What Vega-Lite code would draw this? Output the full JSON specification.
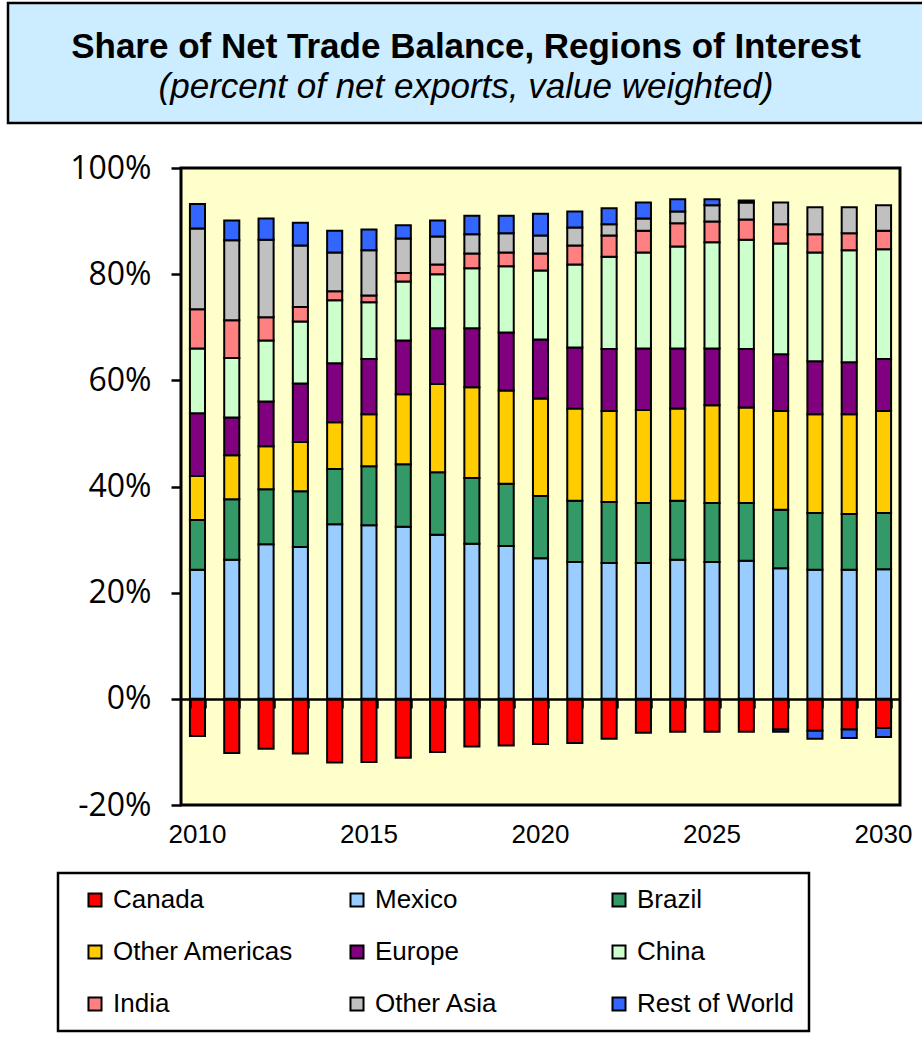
{
  "$schema": "https://vega.github.io/schema/vega-lite/v6.json",
  "background": "white",
  "padding": {"left": 6, "top": 1, "right": 0, "bottom": 0},
  "spacing": 27,
  "config": {"font": "Liberation Sans"},
  "vconcat": [
    {
      "width": 916,
      "height": 120,
      "view": {"fill": "#CCECFF", "stroke": "black", "strokeWidth": 2.5},
      "title": {
        "text": "Share of Net Trade Balance, Regions of Interest",
        "subtitle": "(percent of net exports, value weighted)",
        "orient": "top",
        "anchor": "middle",
        "frame": "group",
        "offset": -102,
        "font": "Liberation Sans",
        "fontSize": 35,
        "fontWeight": "bold",
        "color": "black",
        "subtitleFont": "Liberation Sans",
        "subtitleFontSize": 35,
        "subtitleFontStyle": "italic",
        "subtitleColor": "black",
        "subtitlePadding": 5
      },
      "data": {"values": []},
      "mark": "text"
    },
    {
      "spacing": 8,
      "hconcat": [
        {
          "width": 143,
          "height": 637,
          "view": {"fill": "white", "stroke": null},
          "data": {"values": [{}]},
          "mark": {"type": "tick", "opacity": 0},
          "encoding": {
            "y": {
              "datum": 0, "type": "quantitative",
              "scale": {"domain": [-20, 100], "nice": false},
              "axis": {"orient": "right", "title": null, "values": [-20, 0, 20, 40, 60, 80, 100], "labelExpr": "datum.value + '%'", "grid": false, "domain": false, "ticks": false, "tickSize": 0, "labelAlign": "right", "labelPadding": 0, "labelFont": "Open Sans", "labelFontSize": 32, "labelColor": "black"}
            }
          }
        },
        {
          "width": 719,
          "height": 637,
          "view": {"fill": "#FFFFCC", "stroke": "black", "strokeWidth": 3},
          "data": {"values": [
            {"year":"2010","region":"Canada","value":-7.0},{"year":"2010","region":"Mexico","value":24.3},{"year":"2010","region":"Brazil","value":9.4},{"year":"2010","region":"Other Americas","value":8.3},{"year":"2010","region":"Europe","value":11.8},{"year":"2010","region":"China","value":12.2},{"year":"2010","region":"India","value":7.4},{"year":"2010","region":"Other Asia","value":15.2},{"year":"2010","region":"Rest of World","value":4.6},
            {"year":"2011","region":"Canada","value":-10.2},{"year":"2011","region":"Mexico","value":26.2},{"year":"2011","region":"Brazil","value":11.4},{"year":"2011","region":"Other Americas","value":8.3},{"year":"2011","region":"Europe","value":7.1},{"year":"2011","region":"China","value":11.2},{"year":"2011","region":"India","value":7.1},{"year":"2011","region":"Other Asia","value":15.1},{"year":"2011","region":"Rest of World","value":3.7},
            {"year":"2012","region":"Canada","value":-9.4},{"year":"2012","region":"Mexico","value":29.1},{"year":"2012","region":"Brazil","value":10.4},{"year":"2012","region":"Other Americas","value":8.1},{"year":"2012","region":"Europe","value":8.4},{"year":"2012","region":"China","value":11.5},{"year":"2012","region":"India","value":4.4},{"year":"2012","region":"Other Asia","value":14.6},{"year":"2012","region":"Rest of World","value":4.0},
            {"year":"2013","region":"Canada","value":-10.3},{"year":"2013","region":"Mexico","value":28.6},{"year":"2013","region":"Brazil","value":10.5},{"year":"2013","region":"Other Americas","value":9.3},{"year":"2013","region":"Europe","value":11.0},{"year":"2013","region":"China","value":11.7},{"year":"2013","region":"India","value":2.7},{"year":"2013","region":"Other Asia","value":11.6},{"year":"2013","region":"Rest of World","value":4.3},
            {"year":"2014","region":"Canada","value":-12.0},{"year":"2014","region":"Mexico","value":32.9},{"year":"2014","region":"Brazil","value":10.4},{"year":"2014","region":"Other Americas","value":8.8},{"year":"2014","region":"Europe","value":11.1},{"year":"2014","region":"China","value":11.9},{"year":"2014","region":"India","value":1.7},{"year":"2014","region":"Other Asia","value":7.3},{"year":"2014","region":"Rest of World","value":4.1},
            {"year":"2015","region":"Canada","value":-11.9},{"year":"2015","region":"Mexico","value":32.7},{"year":"2015","region":"Brazil","value":11.1},{"year":"2015","region":"Other Americas","value":9.8},{"year":"2015","region":"Europe","value":10.4},{"year":"2015","region":"China","value":10.7},{"year":"2015","region":"India","value":1.3},{"year":"2015","region":"Other Asia","value":8.5},{"year":"2015","region":"Rest of World","value":3.9},
            {"year":"2016","region":"Canada","value":-11.1},{"year":"2016","region":"Mexico","value":32.4},{"year":"2016","region":"Brazil","value":11.8},{"year":"2016","region":"Other Americas","value":13.2},{"year":"2016","region":"Europe","value":10.1},{"year":"2016","region":"China","value":11.1},{"year":"2016","region":"India","value":1.6},{"year":"2016","region":"Other Asia","value":6.5},{"year":"2016","region":"Rest of World","value":2.5},
            {"year":"2017","region":"Canada","value":-10.0},{"year":"2017","region":"Mexico","value":30.9},{"year":"2017","region":"Brazil","value":11.8},{"year":"2017","region":"Other Americas","value":16.6},{"year":"2017","region":"Europe","value":10.5},{"year":"2017","region":"China","value":10.2},{"year":"2017","region":"India","value":1.8},{"year":"2017","region":"Other Asia","value":5.3},{"year":"2017","region":"Rest of World","value":3.0},
            {"year":"2018","region":"Canada","value":-9.0},{"year":"2018","region":"Mexico","value":29.2},{"year":"2018","region":"Brazil","value":12.4},{"year":"2018","region":"Other Americas","value":17.1},{"year":"2018","region":"Europe","value":11.1},{"year":"2018","region":"China","value":11.3},{"year":"2018","region":"India","value":2.8},{"year":"2018","region":"Other Asia","value":3.6},{"year":"2018","region":"Rest of World","value":3.5},
            {"year":"2019","region":"Canada","value":-8.8},{"year":"2019","region":"Mexico","value":28.8},{"year":"2019","region":"Brazil","value":11.7},{"year":"2019","region":"Other Americas","value":17.6},{"year":"2019","region":"Europe","value":10.9},{"year":"2019","region":"China","value":12.5},{"year":"2019","region":"India","value":2.6},{"year":"2019","region":"Other Asia","value":3.6},{"year":"2019","region":"Rest of World","value":3.3},
            {"year":"2020","region":"Canada","value":-8.5},{"year":"2020","region":"Mexico","value":26.5},{"year":"2020","region":"Brazil","value":11.7},{"year":"2020","region":"Other Americas","value":18.4},{"year":"2020","region":"Europe","value":11.1},{"year":"2020","region":"China","value":13.0},{"year":"2020","region":"India","value":3.2},{"year":"2020","region":"Other Asia","value":3.4},{"year":"2020","region":"Rest of World","value":4.1},
            {"year":"2021","region":"Canada","value":-8.3},{"year":"2021","region":"Mexico","value":25.8},{"year":"2021","region":"Brazil","value":11.5},{"year":"2021","region":"Other Americas","value":17.4},{"year":"2021","region":"Europe","value":11.5},{"year":"2021","region":"China","value":15.6},{"year":"2021","region":"India","value":3.6},{"year":"2021","region":"Other Asia","value":3.4},{"year":"2021","region":"Rest of World","value":3.0},
            {"year":"2022","region":"Canada","value":-7.5},{"year":"2022","region":"Mexico","value":25.6},{"year":"2022","region":"Brazil","value":11.5},{"year":"2022","region":"Other Americas","value":17.1},{"year":"2022","region":"Europe","value":11.7},{"year":"2022","region":"China","value":17.4},{"year":"2022","region":"India","value":4.0},{"year":"2022","region":"Other Asia","value":2.1},{"year":"2022","region":"Rest of World","value":3.0},
            {"year":"2023","region":"Canada","value":-6.4},{"year":"2023","region":"Mexico","value":25.6},{"year":"2023","region":"Brazil","value":11.3},{"year":"2023","region":"Other Americas","value":17.5},{"year":"2023","region":"Europe","value":11.6},{"year":"2023","region":"China","value":18.1},{"year":"2023","region":"India","value":4.1},{"year":"2023","region":"Other Asia","value":2.3},{"year":"2023","region":"Rest of World","value":3.0},
            {"year":"2024","region":"Canada","value":-6.2},{"year":"2024","region":"Mexico","value":26.2},{"year":"2024","region":"Brazil","value":11.1},{"year":"2024","region":"Other Americas","value":17.4},{"year":"2024","region":"Europe","value":11.3},{"year":"2024","region":"China","value":19.2},{"year":"2024","region":"India","value":4.4},{"year":"2024","region":"Other Asia","value":2.2},{"year":"2024","region":"Rest of World","value":2.3},
            {"year":"2025","region":"Canada","value":-6.2},{"year":"2025","region":"Mexico","value":25.8},{"year":"2025","region":"Brazil","value":11.1},{"year":"2025","region":"Other Americas","value":18.4},{"year":"2025","region":"Europe","value":10.7},{"year":"2025","region":"China","value":20.0},{"year":"2025","region":"India","value":3.9},{"year":"2025","region":"Other Asia","value":3.1},{"year":"2025","region":"Rest of World","value":1.1},
            {"year":"2026","region":"Canada","value":-6.2},{"year":"2026","region":"Mexico","value":26.0},{"year":"2026","region":"Brazil","value":10.9},{"year":"2026","region":"Other Americas","value":18.0},{"year":"2026","region":"Europe","value":11.0},{"year":"2026","region":"China","value":20.6},{"year":"2026","region":"India","value":3.8},{"year":"2026","region":"Other Asia","value":3.2},{"year":"2026","region":"Rest of World","value":0.4},
            {"year":"2027","region":"Canada","value":-5.8},{"year":"2027","region":"Mexico","value":24.6},{"year":"2027","region":"Brazil","value":11.0},{"year":"2027","region":"Other Americas","value":18.6},{"year":"2027","region":"Europe","value":10.7},{"year":"2027","region":"China","value":20.9},{"year":"2027","region":"India","value":3.6},{"year":"2027","region":"Other Asia","value":4.1},{"year":"2027","region":"Rest of World","value":-0.4},
            {"year":"2028","region":"Canada","value":-6.0},{"year":"2028","region":"Mexico","value":24.3},{"year":"2028","region":"Brazil","value":10.7},{"year":"2028","region":"Other Americas","value":18.6},{"year":"2028","region":"Europe","value":10.0},{"year":"2028","region":"China","value":20.5},{"year":"2028","region":"India","value":3.4},{"year":"2028","region":"Other Asia","value":5.1},{"year":"2028","region":"Rest of World","value":-1.5},
            {"year":"2029","region":"Canada","value":-5.8},{"year":"2029","region":"Mexico","value":24.3},{"year":"2029","region":"Brazil","value":10.5},{"year":"2029","region":"Other Americas","value":18.8},{"year":"2029","region":"Europe","value":9.8},{"year":"2029","region":"China","value":21.1},{"year":"2029","region":"India","value":3.2},{"year":"2029","region":"Other Asia","value":4.9},{"year":"2029","region":"Rest of World","value":-1.6},
            {"year":"2030","region":"Canada","value":-5.5},{"year":"2030","region":"Mexico","value":24.4},{"year":"2030","region":"Brazil","value":10.6},{"year":"2030","region":"Other Americas","value":19.2},{"year":"2030","region":"Europe","value":9.8},{"year":"2030","region":"China","value":20.7},{"year":"2030","region":"India","value":3.5},{"year":"2030","region":"Other Asia","value":4.8},{"year":"2030","region":"Rest of World","value":-1.7}
          ]},
          "transform": [
            {"calculate": "indexof(['Canada','Mexico','Brazil','Other Americas','Europe','China','India','Other Asia','Rest of World'], datum.region)", "as": "k"}
          ],
          "layer": [
            {
              "mark": {"type": "bar", "stroke": "black", "strokeWidth": 2},
              "encoding": {
                "x": {
                  "field": "year", "type": "ordinal",
                  "scale": {"paddingInner": 0.56, "paddingOuter": 0.26},
                  "axis": {"orient": "bottom", "title": null, "values": ["2010","2015","2020","2025","2030"], "labelAngle": 0, "labelOverlap": false, "ticks": false, "tickSize": 0, "domain": false, "labelFont": "Liberation Sans", "labelFontSize": 26, "labelColor": "black", "labelPadding": 16}
                },
                "y": {
                  "field": "value", "type": "quantitative", "stack": "zero",
                  "scale": {"domain": [-20, 100], "nice": false},
                  "axis": {"title": null, "values": [-20, 0, 20, 40, 60, 80, 100], "labels": false, "grid": false, "domain": false, "tickSize": 10, "tickWidth": 2.5, "tickColor": "black", "minExtent": 20}
                },
                "color": {
                  "field": "region", "type": "nominal",
                  "scale": {
                    "domain": ["Canada","Mexico","Brazil","Other Americas","Europe","China","India","Other Asia","Rest of World"],
                    "range": ["#FF0000","#99CCFF","#339966","#FFCC00","#800080","#CCFFCC","#FF8080","#C0C0C0","#3366FF"]
                  },
                  "legend": {
                    "orient": "none", "legendX": 50, "legendY": 870,
                    "title": null, "columns": 3, "direction": "horizontal", "gridAlign": "all",
                    "symbolType": "square", "symbolSize": 170, "symbolStrokeColor": "black", "symbolStrokeWidth": 2, "symbolOffset": 10,
                    "labelFont": "Liberation Sans", "labelFontSize": 26, "labelColor": "black", "labelOffset": 5, "labelLimit": 400,
                    "padding": 14, "rowPadding": 26, "columnPadding": 40,
                    "strokeColor": "black", "fillColor": "white",
                    "encode": {"legend": {"update": {"strokeWidth": {"value": 2.5}}}}
                  }
                },
                "order": {"field": "k", "type": "quantitative"}
              }
            },
            {
              "mark": {"type": "tick", "opacity": 0},
              "encoding": {
                "x": {
                  "field": "year", "type": "ordinal",
                  "axis": {"orient": "bottom", "offset": -106, "labels": false, "title": null, "tickBand": "extent", "tickSize": 9, "tickWidth": 2.5, "tickColor": "black", "domainColor": "black", "domainWidth": 2.5, "zindex": 1}
                },
                "y": {"datum": 0, "type": "quantitative", "axis": null}
              }
            }
          ],
          "resolve": {"axis": {"x": "independent", "y": "independent"}}
        }
      ]
    }
  ]
}
